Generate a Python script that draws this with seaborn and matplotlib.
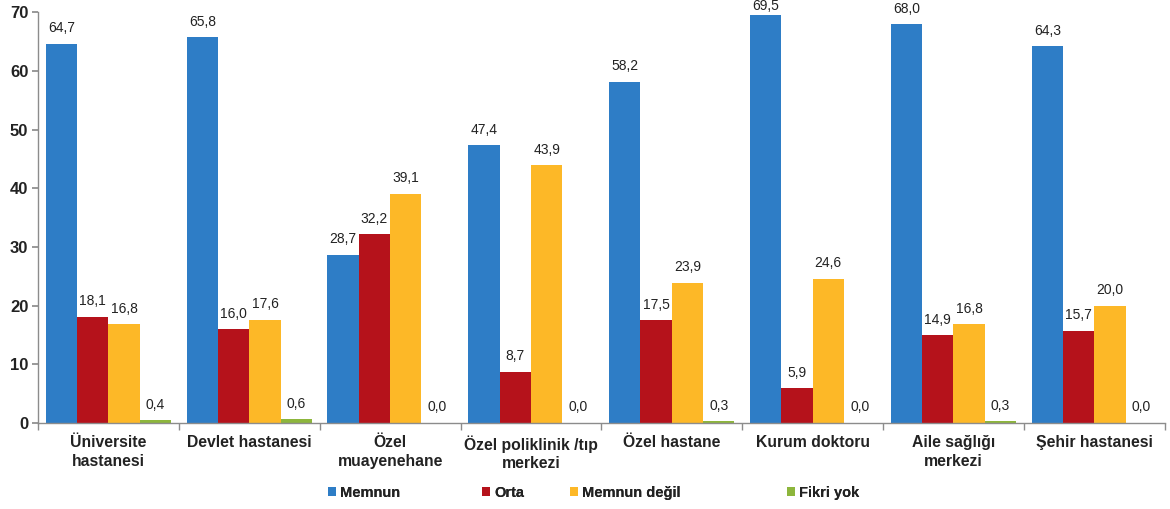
import matplotlib
matplotlib.use("Agg")
import matplotlib.pyplot as plt
import seaborn as sns
import pandas as pd
import numpy as np
from matplotlib.patches import Patch

categories = ["Üniversite\nhastanesi", "Devlet hastanesi", "Özel\nmuayenehane",
              "Özel poliklinik /tıp\nmerkezi", "Özel hastane", "Kurum doktoru",
              "Aile sağlığı\nmerkezi", "Şehir hastanesi"]
series = ["Memnun", "Orta", "Memnun değil", "Fikri yok"]
memnun = [64.7, 65.8, 28.7, 47.4, 58.2, 69.5, 68.0, 64.3]
orta = [18.1, 16.0, 32.2, 8.7, 17.5, 5.9, 14.9, 15.7]
memnun_degil = [16.8, 17.6, 39.1, 43.9, 23.9, 24.6, 16.8, 20.0]
fikri_yok = [0.4, 0.6, 0.0, 0.0, 0.3, 0.0, 0.3, 0.0]
colors = ["#2E7DC6", "#B5121B", "#FDB827", "#8DB63C"]

values = [memnun, orta, memnun_degil, fikri_yok]
rows = []
for s, vals in zip(series, values):
    for c, v in zip(categories, vals):
        rows.append({"cat": c, "series": s, "value": v})
df = pd.DataFrame(rows)

sns.set_theme(style="white")
plt.rcParams["font.family"] = ["Liberation Sans", "DejaVu Sans"]

fig = plt.figure(figsize=(11.7, 5.09), dpi=100)
ax = fig.add_axes([0.0325, 0.1695, 0.963, 0.806])

sns.barplot(data=df, x="cat", y="value", hue="series", order=categories,
            hue_order=series, palette=colors, width=0.89, saturation=1,
            legend=False, ax=ax, errorbar=None, linewidth=0, edgecolor="none")

for cont in ax.containers:
    labels = [f"{b.get_height():.1f}".replace(".", ",") for b in cont]
    anns = ax.bar_label(cont, labels=labels, padding=6, fontsize=10, color="#222222")
    for b, a in zip(cont, anns):
        if b.get_height() > 69:
            a.xyann = (0, 2)

ax.set_xlim(-0.5, len(categories) - 0.5)
ax.set_ylim(0, 70)
ax.set_yticks(range(0, 71, 10))
ax.set_xlabel("")
ax.set_ylabel("")

for sp in ["top", "right"]:
    ax.spines[sp].set_visible(False)
for sp in ["left", "bottom"]:
    ax.spines[sp].set_color("#8c8c8c")
    ax.spines[sp].set_linewidth(1.0)

ax.tick_params(axis="y", which="major", left=True, length=4, color="#8c8c8c",
               labelsize=12, pad=3)
for t in ax.get_yticklabels():
    t.set_fontweight("bold")
    t.set_color("#222222")

ax.set_xticks(np.arange(len(categories)))
ax.set_xticklabels(categories, fontsize=11.3, fontweight="bold", color="#222222",
                   linespacing=1.3)
ax.tick_params(axis="x", which="major", length=0, pad=9)
ax.set_xticks(np.arange(len(categories) + 1) - 0.5, minor=True)
ax.tick_params(axis="x", which="minor", bottom=True, length=5, color="#8c8c8c")

# legend entries placed at their own positions (square left edges in pixels)
leg_x = [328, 482, 570, 787]
for s, c, xp in zip(series, colors, leg_x):
    leg = fig.legend([Patch(facecolor=c, edgecolor="none")], [s],
                     loc="center left", bbox_to_anchor=(xp / 1170, 0.032),
                     frameon=False, handlelength=0.55, handleheight=0.55,
                     handletextpad=0.3, borderpad=0, borderaxespad=0,
                     prop={"size": 10.5, "weight": "bold"})
    for t in leg.get_texts():
        t.set_color("#222222")
    fig.add_artist(leg)

fig.savefig("out.png", dpi=100)
